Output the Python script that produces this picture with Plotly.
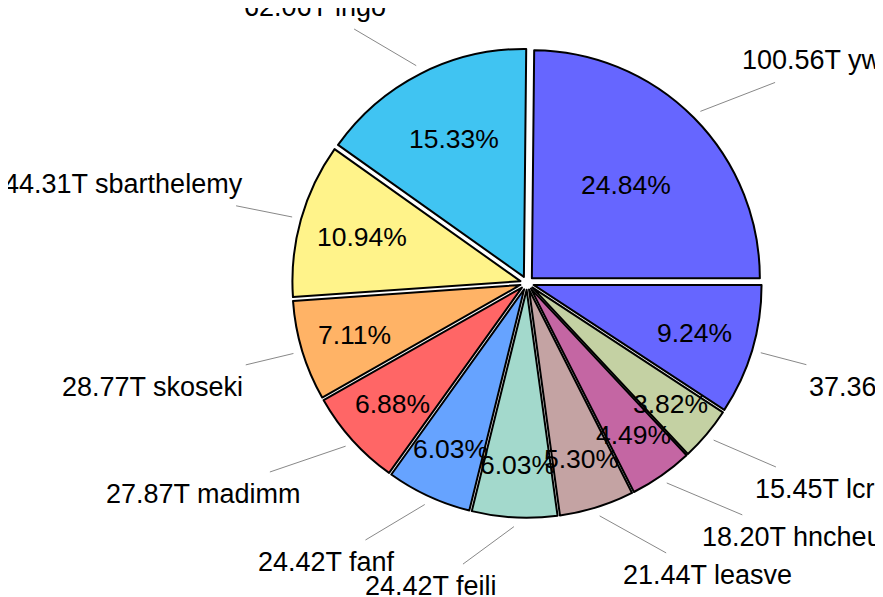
import math
import plotly.graph_objects as go

# ---------------- data ----------------
users = ["ywang", "ingo", "sbarthelemy", "skoseki", "madimm", "fanf",
         "feili", "leasve", "hncheur", "lcr0x", "others"]
usage_T = [100.56, 62.06, 44.31, 28.77, 27.87, 24.42, 24.42, 21.44, 18.20, 15.45, 37.36]
pct_labels = ["24.84%", "15.33%", "10.94%", "7.11%", "6.88%", "6.03%",
              "6.03%", "5.30%", "4.49%", "3.82%", "9.24%"]
slice_colors = ["#6666ff", "#40c4f2", "#fff38a", "#ffb366", "#ff6666", "#66a3ff",
                "#a3d9cc", "#c4a3a3", "#c466a3", "#c4d1a3", "#6666ff"]

# ---------------- layout parameters ----------------
W, H = 883, 597
OFF = 8                     # page body margin in the screenshot
CX, CY = 527, 283          # pie centre (screen pixels)
R = 228                     # pie radius (pixels)
PULL = 0.03
FS_PCT = 26.5
FS_LAB = 27
FONT = "Liberation Sans, Arial, sans-serif"
LINE_START_R = 1.07
PAD = 11
HALF_H = 22
label_nudge_deg = [1.6, -0.3, -3.7, 3.4, 1.3, -0.2, -2.2, 0.5, -0.7, -2.3, -3.7]
label_r = [1.35, 1.355, 1.31, 1.32, 1.35, 1.35, 1.335, 1.345, 1.347, 1.34, 1.31]

ARIAL = {c: 556 for c in "0123456789abdeghnopqu"}
ARIAL.update({"c": 500, "k": 500, "s": 500, "v": 500, "x": 500, "y": 500, "z": 500,
              "f": 278, "t": 278, "i": 222, "j": 222, "l": 222, "m": 833, "r": 333,
              "w": 722, ".": 278, " ": 278, "T": 611, "%": 889})


def text_w(s, fs):
    return sum(ARIAL.get(ch, 556) for ch in s) * fs / 1000.0


def px2paper(x, y):
    return (x - OFF) / W, 1 - (y - OFF) / H


total = sum(usage_T)
half = R * (1 + PULL)
dom_x = [(CX - OFF - half) / W, (CX - OFF + half) / W]
dom_y = [1 - (CY - OFF + half) / H, 1 - (CY - OFF - half) / H]

fig = go.Figure(go.Pie(
    labels=users,
    values=usage_T,
    sort=False,
    direction="counterclockwise",
    rotation=90 - 360 * usage_T[0] / total,
    pull=[PULL] * len(usage_T),
    marker=dict(colors=slice_colors, line=dict(color="black", width=2)),
    textinfo="none",
    hoverinfo="label+value+percent",
    showlegend=False,
    domain=dict(x=dom_x, y=dom_y),
))

annotations = []
shapes = []
cum = 0.0
for name, v, pct, nudge, lr in zip(users, usage_T, pct_labels, label_nudge_deg, label_r):
    frac = v / total
    mid_deg = 360 * (cum + v / 2) / total
    cum += v
    mid = math.radians(mid_deg)
    c, s = math.cos(mid), math.sin(mid)

    # percentage text inside the slice
    rp = 0.86 - frac
    ppx, ppy = px2paper(CX + rp * R * c, CY - rp * R * s)
    annotations.append(dict(x=ppx, y=ppy, xref="paper", yref="paper", text=pct,
                            showarrow=False, xanchor="center", yanchor="middle",
                            font=dict(family=FONT, size=FS_PCT, color="black")))

    # outer label
    la = math.radians(mid_deg + nudge)
    lc, ls = math.cos(la), math.sin(la)
    ax_, ay_ = CX + lr * R * lc, CY - lr * R * ls
    label = f"{v:.2f}T {name}"
    w = text_w(label, FS_LAB)
    if lc >= 0:
        xanchor, tcx = "left", ax_ + w / 2
    else:
        xanchor, tcx = "right", ax_ - w / 2
    tcy = ay_
    px, py = px2paper(ax_, ay_)
    annotations.append(dict(x=px, y=py, xref="paper", yref="paper", text=label,
                            showarrow=False, xanchor=xanchor, yanchor="middle",
                            font=dict(family=FONT, size=FS_LAB, color="black")))

    # leader line from the wedge to the label box
    sx, sy = CX + LINE_START_R * R * c, CY - LINE_START_R * R * s
    hw = w / 2 + PAD
    left, right, top, bot = tcx - hw, tcx + hw, tcy - HALF_H, tcy + HALF_H
    dx, dy = tcx - sx, tcy - sy
    tx = ty = 0.0
    if sx < left:
        tx = (left - sx) / dx
    elif sx > right:
        tx = (right - sx) / dx
    if sy < top:
        ty = (top - sy) / dy
    elif sy > bot:
        ty = (bot - sy) / dy
    t = max(tx, ty)
    ex, ey = sx + t * dx, sy + t * dy
    x0, y0 = px2paper(sx, sy)
    x1, y1 = px2paper(ex, ey)
    shapes.append(dict(type="line", xref="paper", yref="paper", x0=x0, y0=y0, x1=x1, y1=y1,
                       line=dict(color="#888888", width=1)))

fig.update_layout(
    width=W, height=H, autosize=False,
    margin=dict(l=0, r=0, t=0, b=0),
    paper_bgcolor="white", plot_bgcolor="white",
    annotations=annotations,
    shapes=shapes,
)

fig.write_html("out.html")
